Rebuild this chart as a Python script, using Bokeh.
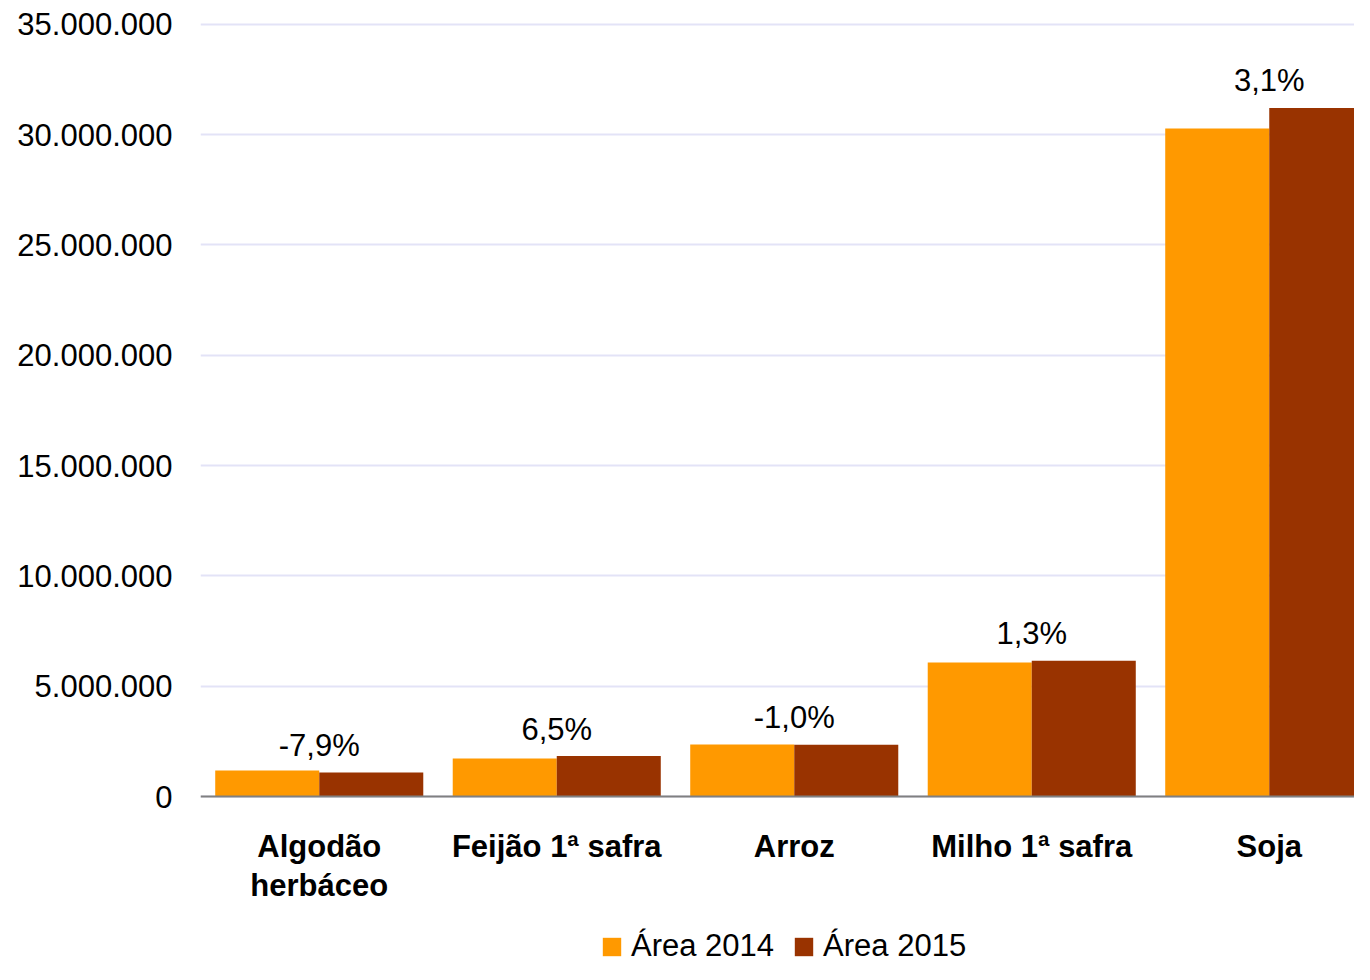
from bokeh.plotting import figure
from bokeh.models import (ColumnDataSource, Range1d, FixedTicker, Legend,
                          LegendItem, Span)
from bokeh.transform import dodge
from bokeh.embed import file_html
from bokeh.resources import INLINE
from bokeh.core.properties import value

categories = ["Algodão herbáceo", "Feijão 1ª safra", "Arroz", "Milho 1ª safra", "Soja"]
tick_line1 = ["Algodão", "Feijão 1ª safra", "Arroz", "Milho 1ª safra", "Soja"]
tick_line2 = ["herbáceo", "", "", "", ""]
area_2014 = [1180000, 1720000, 2360000, 6070000, 30280000]
area_2015 = [1087000, 1830000, 2340000, 6150000, 31210000]
variation = ["-7,9%", "6,5%", "-1,0%", "1,3%", "3,1%"]
y_ticks = [0, 5000000, 10000000, 15000000, 20000000, 25000000, 30000000, 35000000]
y_tick_labels = ["0", "5.000.000", "10.000.000", "15.000.000", "20.000.000",
                 "25.000.000", "30.000.000", "35.000.000"]

FONT = "Liberation Sans"
C14 = "#FF9900"
C15 = "#993300"

idx = list(range(len(categories)))
src = ColumnDataSource(dict(idx=idx, cat=categories, a14=area_2014, a15=area_2015,
                            lab=variation, l1=tick_line1, l2=tick_line2))

# layout geometry (pixels)
W, H = 1354, 964
LEFT, TOP = 200, 22
PLOT_H = 774            # pixels from top of frame to the zero line
CAT_PX = 237.5          # pixels per category
Y_END = 35080000
px_per_val = PLOT_H / Y_END
frame_h = H - TOP
y_start = -(frame_h - PLOT_H) / px_per_val
x_end = -0.5 + (W - LEFT) / CAT_PX

p = figure(x_range=Range1d(-0.5, x_end), y_range=Range1d(y_start, Y_END),
           width=W, height=H, output_backend="svg", toolbar_location=None,
           min_border_left=LEFT, min_border_right=0, min_border_top=TOP,
           min_border_bottom=0, outline_line_color=None)

BW = 0.438
r14 = p.vbar(x=dodge("idx", -BW / 2), top="a14", width=BW,
             source=src, fill_color=C14, line_color=None)
r15 = p.vbar(x=dodge("idx", BW / 2), top="a15", width=BW,
             source=src, fill_color=C15, line_color=None)

# variation labels above the 2015 bars
p.text(x="idx", y="a15", text="lab", source=src,
       text_align="center", text_baseline="alphabetic", y_offset=-27,
       text_font=value(FONT), text_font_size="31px", text_color="black")

# category labels (two lines) under the zero line
p.text(x="idx", y=0, text="l1", source=src, text_align="center",
       text_baseline="alphabetic", y_offset=50, text_font=value(FONT),
       text_font_size="31px", text_font_style="bold", text_color="black")
p.text(x="idx", y=0, text="l2", source=src, text_align="center",
       text_baseline="alphabetic", y_offset=89, text_font=value(FONT),
       text_font_size="31px", text_font_style="bold", text_color="black")

# zero line (category axis line)
p.add_layout(Span(location=0, dimension="width", line_color="#808080", line_width=2))

# y axis
p.yaxis.ticker = FixedTicker(ticks=y_ticks)
p.yaxis.major_label_overrides = {t: l for t, l in zip(y_ticks, y_tick_labels)}
p.yaxis.axis_line_color = None
p.yaxis.major_tick_line_color = None
p.yaxis.minor_tick_line_color = None
p.yaxis.major_tick_out = 0
p.yaxis.major_label_standoff = 28
p.yaxis.major_label_text_font = FONT
p.yaxis.major_label_text_font_size = "31px"
p.yaxis.major_label_text_color = "black"

p.xaxis.visible = False
p.xgrid.grid_line_color = None
p.ygrid.ticker = FixedTicker(ticks=y_ticks)
p.ygrid.grid_line_color = "#E3E3F7"
p.ygrid.grid_line_width = 2

legend = Legend(items=[LegendItem(label="Área 2014", renderers=[r14]),
                       LegendItem(label="Área 2015", renderers=[r15])],
                orientation="horizontal", location=(400, 0),
                label_text_font=FONT, label_text_font_size="31px",
                label_text_color="black", glyph_width=23, glyph_height=23,
                label_standoff=8, spacing=18, padding=0, margin=0,
                border_line_color=None, background_fill_alpha=0)
p.add_layout(legend, "center")

open("out.html", "w").write(file_html(p, INLINE))
